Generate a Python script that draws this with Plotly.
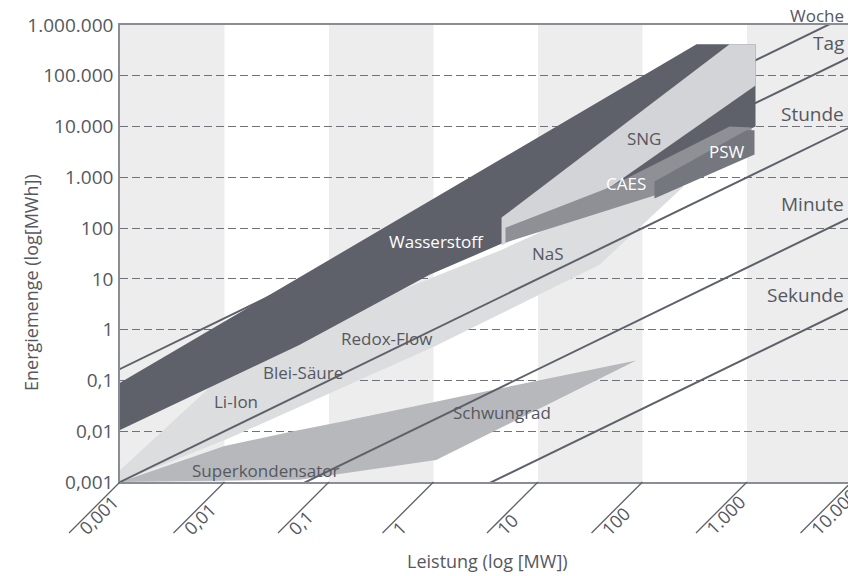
import numpy as np
import plotly.graph_objects as go

# ---------------------------------------------------------------------------
# Axis ticks (power in MW, energy in MWh)
# ---------------------------------------------------------------------------
power_ticks = [0.001, 0.01, 0.1, 1, 10, 100, 1000, 10000]
power_tick_text = ["0,001", "0,01", "0,1", "1", "10", "100", "1.000", "10.000"]
energy_ticks = [0.001, 0.01, 0.1, 1, 10, 100, 1000, 10000, 100000, 1000000]
energy_tick_text = ["0,001", "0,01", "0,1", "1", "10", "100",
                    "1.000", "10.000", "100.000", "1.000.000"]

# alternating shaded power decades
band_starts = [0.001, 0.1, 10, 1000]
band_ends = [0.01, 1, 100, 10000]

# storage duration reference lines (energy = power x hours)
duration_names = ["Sekunde", "Minute", "Stunde", "Tag", "Woche"]
duration_hours = [1 / 3600, 1 / 60, 1, 24, 168]

# ---------------------------------------------------------------------------
# Technology regions: outline vertices as (power MW, energy MWh)
# ---------------------------------------------------------------------------
li_ion_p = [0.001, 0.001, 0.00734, 0.052, 0.2, 0.01]
li_ion_e = [0.001, 0.0017, 0.0748, 1.0, 0.105, 0.0067]

blei_p = [0.01, 0.01, 0.052, 0.473, 1.0]
blei_e = [0.0067, 0.08, 1.0, 5.85, 0.46]

redox_p = [0.3, 0.15, 0.473, 4.29, 10, 1.0]
redox_e = [0.153, 1.5, 5.85, 36, 4.8, 0.46]

nas_p = [1.0, 1.5, 4.29, 11.1, 16.1, 282, 241.6, 38.8]
nas_e = [0.46, 8, 36, 86.5, 123, 1135, 630, 19]

superkond_p = [0.001, 0.01, 0.0468, 0.157, 1.0, 1.06, 0.0523]
superkond_e = [0.001, 0.0051, 0.0101, 0.0167, 0.035, 0.00272, 0.00111]

schwungrad_p = [0.2, 0.157, 1.77, 87, 1.06]
schwungrad_e = [0.005, 0.0167, 0.0475, 0.247, 0.00272]

wasserstoff_p = [0.001, 0.052, 0.916, 4.29, 1206, 1206, 329, 0.001]
wasserstoff_e = [0.0106, 0.50, 12.1, 47.3, 10000, 420000, 420000, 0.09]

sng_p = [4.48, 4.48, 681, 1206, 1206, 51.6, 16.1]
sng_e = [45.2, 161, 420000, 420000, 64600, 689, 184.5]

caes_p = [4.89, 4.89, 45.3, 681, 1104, 1104, 130]
caes_e = [51.8, 102, 601, 10050, 9600, 3530, 438]

psw_p = [130, 989, 1180, 1180, 130]
psw_e = [826, 8490, 8490, 2820, 382]

# ---------------------------------------------------------------------------
# Styling
# ---------------------------------------------------------------------------
FONT = "Open Sans"
TEXT = "#55585f"
DARK = "#5e616a"
LIGHT = "#dcdddf"
SNG_COL = "#d3d4d7"
CAES_COL = "#8e9096"
PSW_COL = "#74777e"
FLY_COL = "#b7b8bc"
BAND = "#ededed"
AXIS = "#8a8d93"

W, H = 848, 576
ML, MR, MT, MB = 120, 0, 25, 94
PW, PH = W - ML - MR, H - MT - MB
X_RANGE = [-3, -3 + PW / 104.5]
Y_RANGE = [-3, 6]


def paper_x(px):
    return (px - ML) / PW


def paper_y(py):
    return (H - MB - py) / PH


def tick_paper_x(v):
    return (np.log10(v) - X_RANGE[0]) / (X_RANGE[1] - X_RANGE[0])


def region(p, e, color, name):
    return go.Scatter(
        x=list(p) + [p[0]], y=list(e) + [e[0]],
        mode="lines", fill="toself", fillcolor=color,
        line=dict(width=0, color=color), name=name,
        hoverinfo="name", showlegend=False,
    )


fig = go.Figure()

# lower layer: batteries and short-term storage
fig.add_trace(region(li_ion_p, li_ion_e, LIGHT, "Li-Ion"))
fig.add_trace(region(blei_p, blei_e, LIGHT, "Blei-Säure"))
fig.add_trace(region(redox_p, redox_e, LIGHT, "Redox-Flow"))
fig.add_trace(region(nas_p, nas_e, LIGHT, "NaS"))
fig.add_trace(region(superkond_p, superkond_e, FLY_COL, "Superkondensator"))
fig.add_trace(region(schwungrad_p, schwungrad_e, FLY_COL, "Schwungrad"))

# duration lines
line_p = np.array([1e-4, 1e5])
for name, hrs in zip(duration_names, duration_hours):
    fig.add_trace(go.Scatter(
        x=line_p, y=line_p * hrs, mode="lines",
        line=dict(color=DARK, width=2), name=name,
        hoverinfo="name", showlegend=False,
    ))

# upper layer: chemical and mechanical bulk storage
fig.add_trace(region(wasserstoff_p, wasserstoff_e, DARK, "Wasserstoff"))
fig.add_trace(region(sng_p, sng_e, SNG_COL, "SNG"))
fig.add_trace(region(caes_p, caes_e, CAES_COL, "CAES"))
fig.add_trace(region(psw_p, psw_e, PSW_COL, "PSW"))

# region labels: (text, power, energy, colour)
region_labels = [
    ("Wasserstoff", 1.07, 54, "white"),
    ("SNG", 104, 5820, TEXT),
    ("CAES", 70, 755, "white"),
    ("PSW", 637, 3230, "white"),
    ("NaS", 12.6, 31.4, TEXT),
    ("Redox-Flow", 0.355, 0.66, TEXT),
    ("Blei-Säure", 0.057, 0.141, TEXT),
    ("Li-Ion", 0.013, 0.038, TEXT),
    ("Superkondensator", 0.0247, 0.00165, TEXT),
    ("Schwungrad", 4.48, 0.023, TEXT),
]

annotations = []
for text, p, e, col in region_labels:
    annotations.append(dict(
        x=np.log10(p), y=np.log10(e), xref="x", yref="y", text=text,
        xanchor="center", yanchor="middle",
        showarrow=False, font=dict(family=FONT, size=17, color=col),
    ))

# duration names at the right edge: (vertical centre px, size)
duration_label_pos = {"Woche": (15, 17), "Tag": (43, 19), "Stunde": (114, 19),
                      "Minute": (204, 19), "Sekunde": (295, 19)}
for name in duration_names:
    cy, size = duration_label_pos[name]
    annotations.append(dict(
        x=paper_x(846), y=paper_y(cy), xref="paper", yref="paper",
        xanchor="right", yanchor="middle", text=name, showarrow=False,
        font=dict(family=FONT, size=size, color=TEXT),
    ))

shapes = []
# shaded decades
for a, b in zip(band_starts, band_ends):
    shapes.append(dict(type="rect", xref="x", yref="paper", x0=a, x1=b,
                       y0=0, y1=1, fillcolor=BAND, line=dict(width=0),
                       layer="below"))

# slanted power tick labels with their overline
for v, t in zip(power_ticks, power_tick_text):
    xp = tick_paper_x(v)
    shapes.append(dict(type="line", xref="paper", yref="paper",
                       x0=xp, y0=0, x1=xp - 51 / PW, y1=-51 / PH,
                       line=dict(color=DARK, width=1.3)))
    annotations.append(dict(
        x=xp - 49 / PW, y=paper_y(543), xref="paper", yref="paper",
        xanchor="left", yanchor="bottom", textangle=-45, text=t,
        showarrow=False, font=dict(family=FONT, size=18, color=TEXT),
    ))

# axis titles
annotations.append(dict(
    x=paper_x(487), y=paper_y(561), xref="paper", yref="paper",
    xanchor="center", yanchor="middle",
    text="Leistung (log [MW])", showarrow=False,
    font=dict(family=FONT, size=18, color=TEXT),
))
annotations.append(dict(
    x=paper_x(31), y=paper_y(283), xref="paper", yref="paper",
    xanchor="center", yanchor="middle",
    text="Energiemenge (log[MWh])", textangle=-90, showarrow=False,
    font=dict(family=FONT, size=18, color=TEXT),
))

fig.update_layout(
    width=W, height=H, autosize=False,
    margin=dict(l=ML, r=MR, t=MT, b=MB, pad=0),
    paper_bgcolor="white", plot_bgcolor="white",
    showlegend=False,
    shapes=shapes, annotations=annotations,
    font=dict(family=FONT, color=TEXT),
    xaxis=dict(
        type="log", range=X_RANGE, tickvals=power_ticks,
        ticktext=power_tick_text, showticklabels=False, ticks="",
        showgrid=False, zeroline=False,
        showline=True, linecolor=AXIS, linewidth=1.6, mirror=True,
    ),
    yaxis=dict(
        type="log", range=Y_RANGE, tickvals=energy_ticks,
        ticktext=energy_tick_text, ticks="", ticklabelstandoff=1,
        tickfont=dict(family=FONT, size=19, color=TEXT),
        showgrid=True, gridcolor="#6f7279", gridwidth=1, griddash="8px,4px",
        zeroline=False, showline=True, linecolor=AXIS, linewidth=1.6,
    ),
)

fig.write_html("out.html", config={"displayModeBar": False})
